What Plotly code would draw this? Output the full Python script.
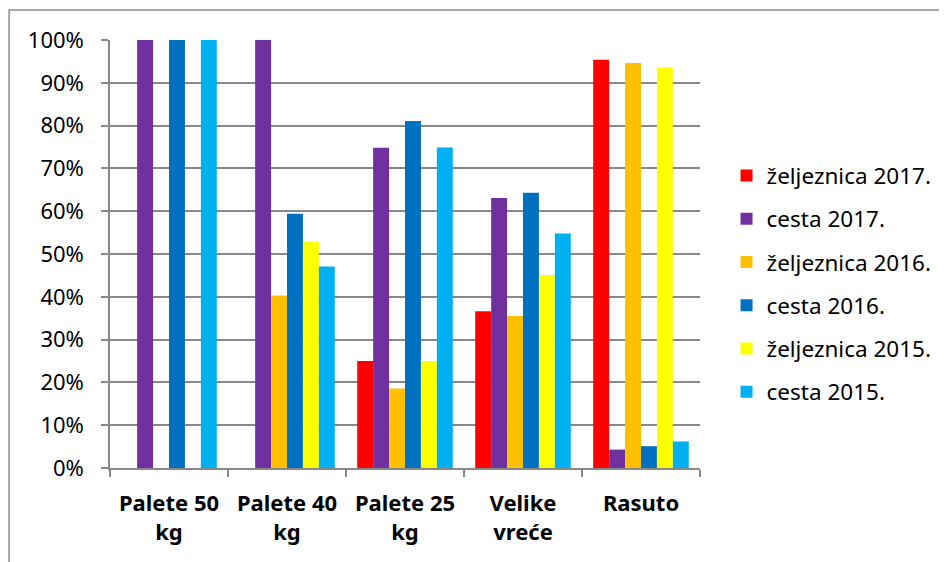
import plotly.graph_objects as go

categories = ["Palete 50<br>kg", "Palete 40<br>kg", "Palete 25<br>kg", "Velike<br>vreće", "Rasuto"]
series_names = ["željeznica 2017.", "cesta 2017.", "željeznica 2016.", "cesta 2016.", "željeznica 2015.", "cesta 2015."]
zeljeznica_2017 = [0, 0, 25.0, 36.6, 95.4]
cesta_2017 = [100, 100, 74.8, 63.1, 4.3]
zeljeznica_2016 = [0, 40.3, 18.6, 35.5, 94.6]
cesta_2016 = [100, 59.4, 81.1, 64.3, 5.1]
zeljeznica_2015 = [0, 52.9, 25.0, 45.1, 93.6]
cesta_2015 = [100, 47.1, 74.9, 54.8, 6.2]
series_values = [zeljeznica_2017, cesta_2017, zeljeznica_2016, cesta_2016, zeljeznica_2015, cesta_2015]
colors = ["#FF0000", "#7030A0", "#FFC000", "#0070C0", "#FFFF00", "#00B0F0"]

FONT = "Noto Sans"

fig = go.Figure()
for i, (name, vals, col) in enumerate(zip(series_names, series_values, colors)):
    fig.add_trace(go.Bar(
        x=categories, y=[v / 100 for v in vals], name=name,
        marker=dict(color=col, line=dict(width=0)),
        legendgroup=str(i),
    ))

fig.update_layout(
    width=947, height=562,
    margin=dict(l=102, r=255, t=32, b=102),
    paper_bgcolor="white", plot_bgcolor="white",
    barmode="group", bargap=0.19, bargroupgap=0,
    font=dict(family=FONT, size=22, color="black"),
    showlegend=True,
    legend=dict(
        x=1.045, y=0.733, xanchor="left", yanchor="top",
        font=dict(family=FONT, size=22.5, color="black"),
        tracegroupgap=11, itemwidth=30, bgcolor="rgba(0,0,0,0)",
    ),
    xaxis=dict(
        type="category", tickson="boundaries", ticks="outside", ticklen=7,
        tickcolor="#888888", tickwidth=1.5,
        showline=True, linecolor="#888888", linewidth=1.5,
        showgrid=False, ticklabelstandoff=15,
        tickfont=dict(family=FONT, size=22, color="black", weight="bold"),
    ),
    yaxis=dict(
        range=[0, 1], dtick=0.1, tickformat=".0%",
        ticks="outside", ticklen=7, tickcolor="#888888", tickwidth=1.5,
        showline=True, linecolor="#888888", linewidth=1.5,
        showgrid=True, gridcolor="#888888", gridwidth=1.5,
        zeroline=False, ticklabelstandoff=13,
        tickfont=dict(family=FONT, size=22, color="black"),
    ),
    shapes=[dict(
        type="rect", xref="paper", yref="paper",
        x0=-0.171, x1=1.6, y0=-0.5, y1=1.070,
        line=dict(color="#8c8c8c", width=1.5), fillcolor="rgba(0,0,0,0)",
        layer="below",
    )],
)

fig.write_html("out.html")
